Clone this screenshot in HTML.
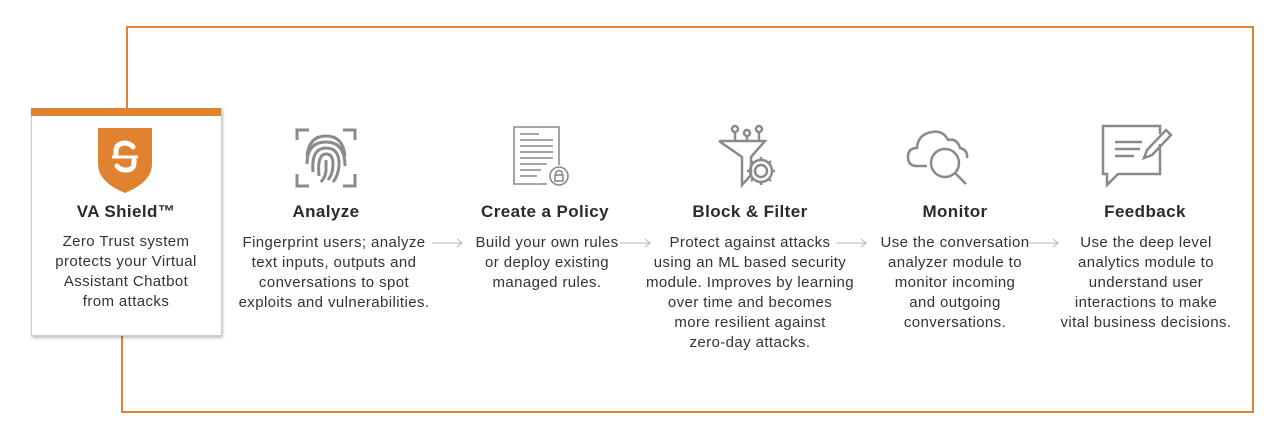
<!DOCTYPE html>
<html><head><meta charset="utf-8"><style>
body{margin:0;width:1280px;height:436px;background:#fff;position:relative;overflow:hidden;font-family:"Liberation Sans",sans-serif;}
.a{position:absolute}
.t{position:absolute;text-align:center;font-weight:bold;font-size:17px;letter-spacing:0.4px;color:#2a2a2a;width:240px;white-space:nowrap}
.d{position:absolute;text-align:center;font-size:15px;letter-spacing:0.4px;line-height:20px;color:#333;width:240px;white-space:nowrap}
</style></head><body>
<div class="a" style="left:127px;top:26px;width:1126px;height:2px;background:#e0822f"></div>
<div class="a" style="left:1252px;top:26px;width:2px;height:387px;background:#e0822f"></div>
<div class="a" style="left:122px;top:411px;width:1132px;height:2px;background:#e0822f"></div>
<div class="a" style="left:126px;top:26px;width:2px;height:84px;background:#e0822f"></div>
<div class="a" style="left:121px;top:334px;width:2px;height:79px;background:#e0822f"></div>
<div class="a" style="left:31px;top:108px;width:189px;height:226px;background:#fff;border:1px solid #ccc;box-shadow:1px 2px 3px rgba(0,0,0,0.25)"></div>
<div class="a" style="left:31px;top:108px;width:190px;height:8px;background:#e0822f"></div>
<svg class="a" style="left:96px;top:126px" width="58" height="68" viewBox="0 0 58 68"><path d="M2 2H56V38Q56 56 29 67Q2 56 2 38Z" fill="#e0822f"/><path d="M37 21Q34 17 28 17Q20 18 20 25L20 28" stroke="#fff" stroke-width="5" fill="none" stroke-linecap="round"/><path d="M16 31H42" stroke="#fff" stroke-width="3"/><path d="M38 34V37Q38 44 30 44Q24 44 21 40" stroke="#fff" stroke-width="5" fill="none" stroke-linecap="round"/></svg>
<div class="t" style="left:6px;top:202px">VA Shield™</div>
<div class="d" style="left:6px;top:232px">Zero Trust system<br>protects your Virtual<br>Assistant Chatbot<br>from attacks</div>

<svg class="a" style="left:295px;top:126px" width="62" height="62" viewBox="0 0 62 62" fill="none" stroke="#8a8a8a" stroke-width="3"><path d="M2 14V4H14M48 4H60V14M2 48V60H14M48 60H60V48"/><path d="M12 30Q14 10 31 10Q48 10 50 30M12 38Q12 16 31 16Q50 16 50 40M18 46Q16 22 31 22Q45 22 44 40Q43 50 38 56M24 50Q22 28 31 28Q38 28 38 38Q38 48 33 54M31 34V44Q31 50 26 56"/></svg>
<div class="t" style="left:206px;top:202px">Analyze</div>
<div class="d" style="left:214px;top:233px">Fingerprint users; analyze<br>text inputs, outputs and<br>conversations to spot<br>exploits and vulnerabilities.</div>

<svg class="a" style="left:511px;top:125px" width="62" height="62" viewBox="0 0 62 62" fill="none" stroke="#8a8a8a" stroke-width="1.6"><path d="M36 59H3V2H48V40"/><path d="M9 9H28M9 15H42M9 21H42M9 27H42M9 33H42M9 39H36M9 45H30M9 51H26"/><circle cx="48" cy="51" r="9"/><rect x="44" y="50" width="8" height="6"/><path d="M45 50V47Q48 44 51 47V50"/></svg>
<div class="t" style="left:425px;top:202px">Create a Policy</div>
<div class="d" style="left:427px;top:233px">Build your own rules<br>or deploy existing<br>managed rules.</div>

<svg class="a" style="left:715px;top:123px" width="66" height="66" viewBox="0 0 66 66" fill="none" stroke="#8a8a8a" stroke-width="2.5"><circle cx="20" cy="6" r="3"/><circle cx="32" cy="10" r="3"/><circle cx="44" cy="6" r="3"/><path d="M20 9V18M32 13V18M44 9V18M4 18H50L36 34V52L27 62V34L4 18"/><circle cx="46" cy="48" r="6"/><path d="M46 34V38M46 58V62M32 48H36M56 48H60M36 38L39 41M53 55L56 58M36 58L39 55M53 41L56 38"/><circle cx="46" cy="48" r="11"/></svg>
<div class="t" style="left:630px;top:202px">Block &amp; Filter</div>
<div class="d" style="left:630px;top:233px">Protect against attacks<br>using an ML based security<br>module. Improves by learning<br>over time and becomes<br>more resilient against<br>zero-day attacks.</div>

<svg class="a" style="left:905px;top:122px" width="74" height="68" viewBox="0 0 74 68" fill="none" stroke="#8a8a8a" stroke-width="2.5"><path d="M22 44H12Q3 44 3 35Q3 26 12 26Q13 12 27 10Q38 8 43 18Q52 16 55 26Q63 28 62 36"/><circle cx="40" cy="41" r="14"/><path d="M50 51L61 62"/></svg>
<div class="t" style="left:835px;top:202px">Monitor</div>
<div class="d" style="left:835px;top:233px">Use the conversation<br>analyzer module to<br>monitor incoming<br>and outgoing<br>conversations.</div>

<svg class="a" style="left:1100px;top:122px" width="74" height="66" viewBox="0 0 74 66" fill="none" stroke="#8a8a8a" stroke-width="2.5"><path d="M60 12V4H3V52H7V63L18 52H60V22"/><path d="M15 20H42M15 27H40M15 34H34"/><path d="M44 36L47 28L66 8L71 13L52 33Z"/></svg>
<div class="t" style="left:1025px;top:202px">Feedback</div>
<div class="d" style="left:1026px;top:233px">Use the deep level<br>analytics module to<br>understand user<br>interactions to make<br>vital business decisions.</div>

<svg class="a" style="left:0;top:0" width="1280" height="436" fill="none" stroke="#b5b5b5" stroke-width="1"><path d="M432 243H462M457 239L462 243L457 247M620 243H650M645 239L650 243L645 247M836 243H866M861 239L866 243L861 247M1028 243H1058M1053 239L1058 243L1053 247"/></svg>
</body></html>
